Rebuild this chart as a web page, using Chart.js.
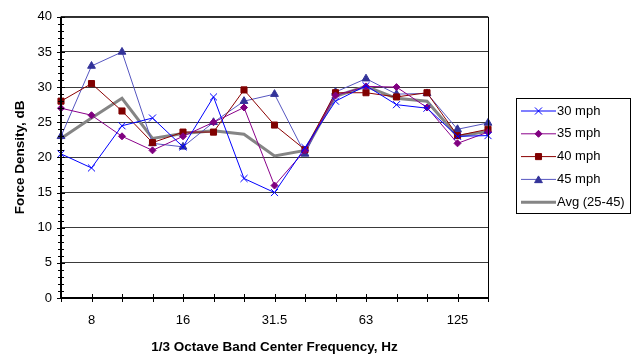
<!DOCTYPE html>
<html>
<head>
<meta charset="utf-8">
<script src="https://cdn.jsdelivr.net/npm/chart.js@4/dist/chart.umd.min.js"></script>
<style>
  html, body { margin: 0; padding: 0; background: #fff; }
  #wrap { position: relative; width: 641px; height: 360px; }
</style>
</head>
<body>
<div id="wrap"><canvas id="chart-force" width="641" height="360"></canvas></div>
<script>
// 1/3 octave band centre frequencies (Hz)
var bands = ["6.3", "8", "10", "12.5", "16", "20", "25", "31.5", "40", "50", "63", "80", "100", "125", "160"];
// only every third band gets a printed label
var shownBands = ["8", "16", "31.5", "63", "125"];

// force density per band, dB
var mph30 = [20.5, 18.5, 24.5, 25.6, 21.5, 28.6, 17, 15, 21.4, 28, 30.2, 27.5, 27, 23, 23.1];
var mph35 = [27, 26, 23, 21, 23, 25, 27.1, 16, 21, 28.8, 30.1, 30, 27.1, 22, 23.6];
var mph40 = [28, 30.5, 26.6, 22.1, 23.6, 23.6, 29.6, 24.6, 21.1, 29.2, 29.2, 28.6, 29.2, 23.1, 24];
var mph45 = [23, 33, 35, 22, 21.5, 25, 28, 29, 20.5, 29.3, 31.2, 29, 29.1, 24, 24.9];
var avg2545 = [22.7, 25.6, 28.4, 22.7, 23.4, 23.8, 23.3, 20.2, 21, 28.7, 30.1, 28.4, 28, 23, 23.7];

var yMin = 0, yMax = 40, yStep = 5;

var FONT = "'Liberation Sans', Arial, sans-serif";

// tick marks crossing the axes, minor ticks every 1 dB, plot frame
var axisDecor = {
    id: "axisDecor",
    afterDatasetsDraw: function(chart) {
        var ctx = chart.ctx, a = chart.chartArea;
        var xs = chart.scales.x, ys = chart.scales.y;
        ctx.save();
        ctx.strokeStyle = "#000";
        ctx.lineWidth = 1;
        ctx.strokeRect(a.left + 0.5, a.top + 0.5, a.right - a.left, a.bottom - a.top);

        ctx.lineWidth = 1;
        ctx.beginPath();
        for (var v = yMin; v <= yMax; v++) {
            var py = Math.round(ys.getPixelForValue(v)) + 0.5;
            var half = (v % yStep === 0) ? 4 : 3;
            ctx.moveTo(a.left - half, py);
            ctx.lineTo(a.left + half, py);
        }
        for (var i = 0; i < bands.length; i++) {
            var px = Math.round(xs.getPixelForValue(i)) + 0.5;
            ctx.moveTo(px, a.bottom - 4);
            ctx.lineTo(px, a.bottom + 4);
        }
        ctx.stroke();

        ctx.lineWidth = 2;
        ctx.beginPath();
        ctx.moveTo(a.left, a.top);
        ctx.lineTo(a.left, a.bottom);
        ctx.lineTo(a.right, a.bottom);
        ctx.stroke();
        ctx.restore();
    }
};

// boxed legend to the right of the plot, line sample with marker
var sideLegend = {
    id: "sideLegend",
    afterDraw: function(chart) {
        var ctx = chart.ctx;
        var box = { x: 516, y: 98, w: 114, h: 115 };
        ctx.save();
        ctx.fillStyle = "#fff";
        ctx.fillRect(box.x, box.y, box.w, box.h);
        ctx.strokeStyle = "#000";
        ctx.lineWidth = 1;
        ctx.strokeRect(box.x + 0.5, box.y + 0.5, box.w, box.h);
        ctx.font = "13px " + FONT;
        ctx.textBaseline = "middle";
        chart.data.datasets.forEach(function(ds, i) {
            var cy = box.y + 13 + i * 22.8;
            ctx.strokeStyle = ds.borderColor;
            ctx.lineWidth = ds.borderWidth;
            ctx.beginPath();
            ctx.moveTo(box.x + 5, cy);
            ctx.lineTo(box.x + 40, cy);
            ctx.stroke();
            if (ds.pointRadius > 0) {
                ctx.fillStyle = ds.pointBackgroundColor;
                ctx.strokeStyle = ds.pointBorderColor;
                ctx.lineWidth = ds.pointBorderWidth;
                Chart.helpers.drawPoint(ctx, {
                    pointStyle: ds.pointStyle,
                    radius: ds.pointRadius,
                    rotation: 0,
                    borderWidth: ds.pointBorderWidth
                }, box.x + 22.5, cy + (ds.pointStyle === "triangle" ? 1 : 0));
            }
            ctx.fillStyle = "#000";
            ctx.fillText(ds.label, box.x + 41, cy);
        });
        ctx.restore();
    }
};

function series(label, data, line, fill, style, radius) {
    return {
        label: label,
        data: data,
        borderColor: line,
        borderWidth: 1,
        pointStyle: style,
        pointRadius: radius,
        pointHoverRadius: radius,
        pointBackgroundColor: fill,
        pointBorderColor: fill,
        pointBorderWidth: 1,
        tension: 0,
        fill: false
    };
}

var avgSet = series("Avg (25-45)", avg2545, "#858585", "#858585", false, 0);
avgSet.borderWidth = 3;

// draw order: average under the speed series
var datasets = [
    series("30 mph", mph30, "#0000ff", "#0000ff", "crossRot", 5),
    series("35 mph", mph35, "#8a008a", "#800080", "rectRot", 3.5),
    series("40 mph", mph40, "#8b0000", "#800000", "rect", 4.3),
    series("45 mph", mph45, "#5656c0", "#333399", "triangle", 4.5),
    avgSet
];
datasets[4].order = 5;

var chart = new Chart(document.getElementById("chart-force"), {
    type: "line",
    data: { labels: bands, datasets: datasets },
    options: {
        responsive: false,
        animation: false,
        events: [],
        layout: { padding: { top: 14, right: 153, bottom: 0, left: 0 } },
        plugins: { legend: { display: false }, tooltip: { enabled: false } },
        scales: {
            x: {
                type: "category",
                offset: false,
                grid: { display: false, drawTicks: false },
                border: { display: false },
                ticks: {
                    autoSkip: false,
                    maxRotation: 0,
                    padding: 15,
                    color: "#000",
                    font: { family: FONT, size: 13 },
                    callback: function(v, i) {
                        var lab = bands[i];
                        return shownBands.indexOf(lab) >= 0 ? lab : "";
                    }
                },
                title: {
                    display: true,
                    text: "1/3 Octave Band Center Frequency, Hz",
                    color: "#000",
                    font: { family: FONT, size: 13.5, weight: "bold" },
                    padding: { top: 0, bottom: 5 }
                },
                afterFit: function(s) { s.height = 62; }
            },
            y: {
                min: yMin,
                max: yMax,
                ticks: {
                    stepSize: yStep,
                    padding: 9,
                    color: "#000",
                    font: { family: FONT, size: 13 }
                },
                grid: { color: "#3a3a3a", lineWidth: 1, drawTicks: false },
                border: { display: false },
                title: {
                    display: true,
                    text: "Force Density, dB",
                    color: "#000",
                    font: { family: FONT, size: 13.5, weight: "bold" },
                    padding: { top: 12, bottom: 0 }
                },
                afterFit: function(s) { s.width = 61; }
            }
        }
    },
    plugins: [axisDecor, sideLegend]
});
</script>
</body>
</html>
